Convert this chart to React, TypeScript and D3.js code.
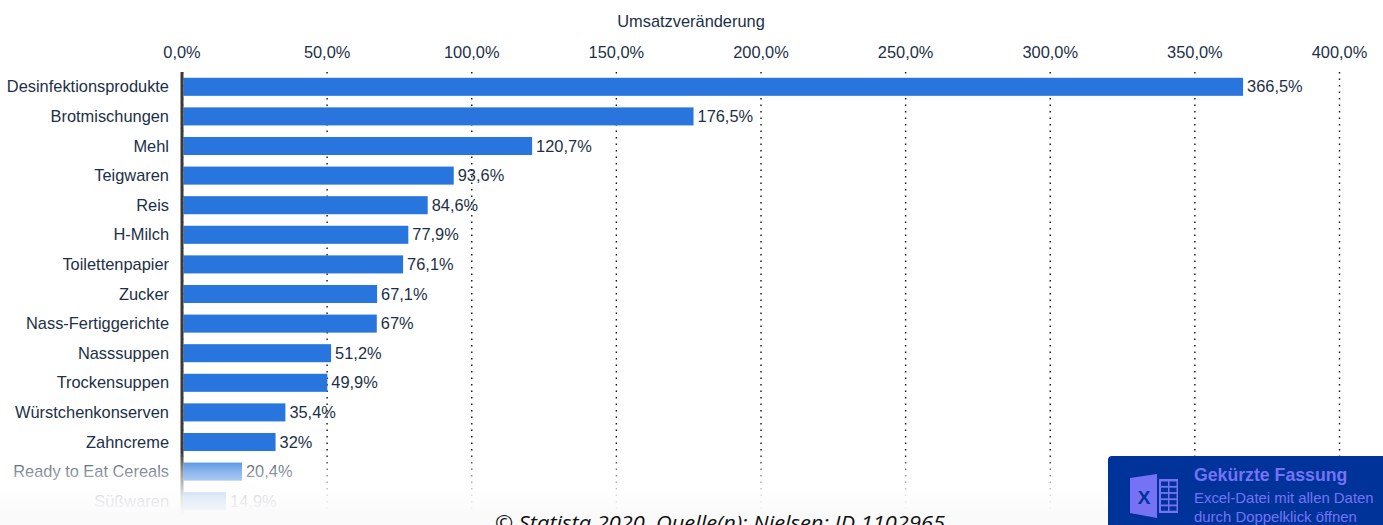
import React from "react";
import * as d3 from "d3";

const categories = ["Desinfektionsprodukte","Brotmischungen","Mehl","Teigwaren","Reis","H-Milch","Toilettenpapier","Zucker","Nass-Fertiggerichte","Nasssuppen","Trockensuppen","Würstchenkonserven","Zahncreme","Ready to Eat Cereals","Süßwaren"];
const values = [366.5,176.5,120.7,93.6,84.6,77.9,76.1,67.1,67,51.2,49.9,35.4,32,20.4,14.9];
const valueLabels = ["366,5%","176,5%","120,7%","93,6%","84,6%","77,9%","76,1%","67,1%","67%","51,2%","49,9%","35,4%","32%","20,4%","14,9%"];
const ticks = [0,50,100,150,200,250,300,350,400];
const tickLabels = ["0,0%","50,0%","100,0%","150,0%","200,0%","250,0%","300,0%","350,0%","400,0%"];
const tableRows = [0,1,2,3,4];
const tableCols = [0,1];

const W = 1383, H = 525;
const FONT = "'Liberation Sans', Arial, sans-serif";
const INK = "#1c3048";
const PURPLE = "#7672f5";
const NAVY = "#003399";

export default function App() {
  const x = d3.scaleLinear().domain([0, 400]).range([182, 1339]);
  const y = d3.scaleBand<string>().domain(categories).range([72, 516]).paddingInner(0.39).paddingOuter(0.195);
  return (
    <svg width={W} height={H} style={{ position: "absolute", left: 0, top: 0, display: "block" }} fontFamily={FONT}>
      <defs>
        <linearGradient id="fade" x1="0" y1="0" x2="0" y2="1">
          <stop offset="0" stopColor="#fff" stopOpacity={0} />
          <stop offset="0.3" stopColor="#fff" stopOpacity={0.45} />
          <stop offset="0.7" stopColor="#fdfdfd" stopOpacity={0.86} />
          <stop offset="1" stopColor="#fafafa" stopOpacity={1} />
        </linearGradient>
      </defs>
      <rect width={W} height={H} fill="#fff" />
      <text x={691} y={27} textAnchor="middle" fontSize={16.4} fill={INK}>Umsatzveränderung</text>
      {ticks.map((t, i) => (
        <g key={t}>
          <line x1={x(t) + 0.5} x2={x(t) + 0.5} y1={72} y2={516} stroke="#111" strokeWidth={1.4} strokeDasharray="1.5 5" />
          <text x={x(t) + (t === 0 ? 0 : 0.5)} y={58} textAnchor="middle" fontSize={16.4} fill={INK}>{tickLabels[i]}</text>
        </g>
      ))}
      {categories.map((c, i) => {
        const by = y(c)!;
        const cy = by + y.bandwidth() / 2;
        return (
          <g key={c}>
            <rect x={x(0) + 1.5} y={by} width={x(values[i]) - x(0) - 0.5} height={y.bandwidth()} fill="#2876dd" />
            <text x={169} y={cy + 5.6} textAnchor="end" fontSize={16.4} fill={INK}>{c}</text>
            <text x={x(values[i]) + 5} y={cy + 5.6} fontSize={16.4} fill={INK}>{valueLabels[i]}</text>
          </g>
        );
      })}
      <line x1={x(0)} x2={x(0)} y1={72} y2={516} stroke="#3a3a3a" strokeWidth={3} />
      <rect x={0} y={452} width={W} height={63} fill="url(#fade)" />
      <rect x={0} y={515} width={W} height={10} fill="#fafafa" />
      <text x={720} y={530} textAnchor="middle" fontSize={20} fontStyle="italic" fontFamily="'Open Sans', sans-serif" fill="#111" textLength={450} lengthAdjust="spacingAndGlyphs">© Statista 2020, Quelle(n): Nielsen; ID 1102965</text>
      <path d="M1112,456H1383V525H1108V460a4,4 0 0 1 4,-4Z" fill={NAVY} />
      <path d="M1130,478L1157,474V518L1130,513Z" fill={PURPLE} />
      <rect x={1159} y={479} width={19} height={34} fill={PURPLE} />
      {tableRows.map(r => tableCols.map(k => (
        <rect key={r + "-" + k} x={1161 + k * 8.5} y={481.5 + r * 6.2} width={7} height={4.4} fill={NAVY} />
      )))}
      <text x={1144} y={503.5} textAnchor="middle" fontSize={19} fontWeight={700} fill={NAVY}>X</text>
      <text x={1194} y={481} fontSize={17.7} fontWeight={700} fill={PURPLE}>Gekürzte Fassung</text>
      <text x={1194} y={502.5} fontSize={14.9} fill={PURPLE}>Excel-Datei mit allen Daten</text>
      <text x={1194} y={522} fontSize={14.9} fill={PURPLE}>durch Doppelklick öffnen</text>
    </svg>
  );
}
